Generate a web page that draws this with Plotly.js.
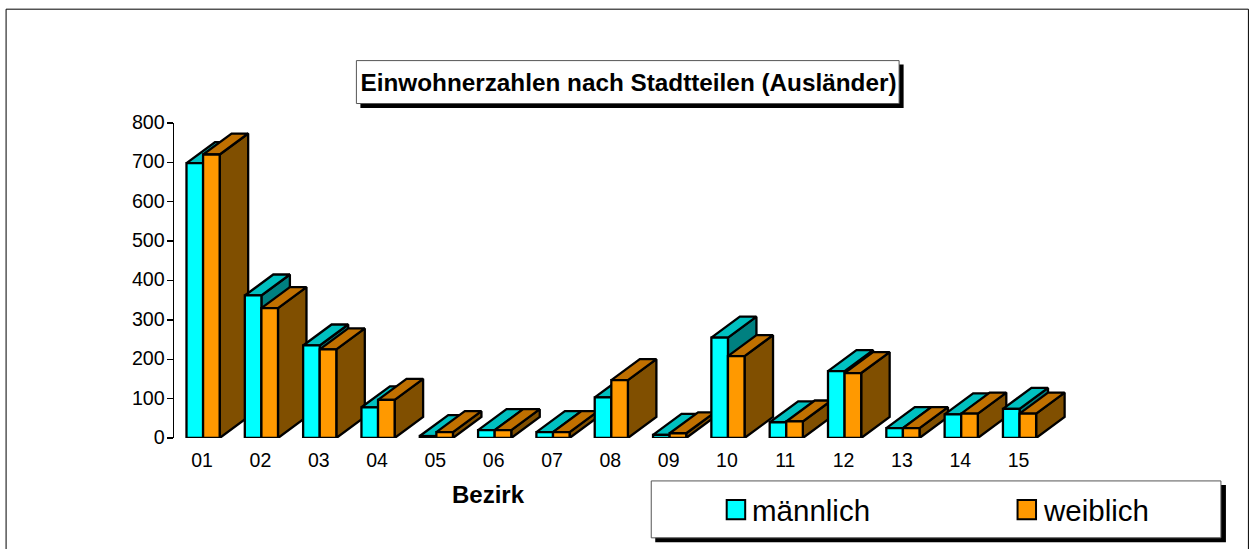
<!DOCTYPE html>
<html><head><meta charset="utf-8">
<script src="https://cdn.plot.ly/plotly-3.0.1.min.js"></script>
<style>html,body{margin:0;padding:0;background:#fff}#c{width:1250px;height:549px}</style></head>
<body><div id="c"></div>
<script>
const categories = ["01","02","03","04","05","06","07","08","09","10","11","12","13","14","15"];
const maennlich = [698,362,235,78,5,20,15,103,8,255,40,170,25,60,74];
const weiblich  = [720,330,225,97,15,20,15,147,12,208,42,165,25,62,62];
const yTicks = [0,100,200,300,400,500,600,700,800];
const titleText = "Einwohnerzahlen nach Stadtteilen (Ausländer)";

const W=1250,H=549, L=173.5,R=1100,T=122.5,B=438;
const pos = categories.map((_,i)=>i+1);
const catPx = 58.35, cat1Px = 202.6;
const xMin = 1+(L-cat1Px)/catPx, xMax = 1+(R-cat1Px)/catPx;
const barW = 16.6/catPx, depthX = 28.5/catPx, depthY = 21/((B-T)/800);
const px = x=>(x-L)/(R-L), py = y=>(B-y)/(B-T);
const font = "Liberation Sans, Arial, sans-serif";
const stroke = 2.3;

function face(xs,ys,fill){
  return {type:'scatter',mode:'lines',x:xs.concat(xs[0]),y:ys.concat(ys[0]),fill:'toself',fillcolor:fill,
    line:{color:'#000',width:stroke,simplify:false},cliponaxis:false,hoverinfo:'skip',showlegend:false,xaxis:'x',yaxis:'y'};
}
const faces=[];
pos.forEach((c,i)=>{
  [[maennlich,c-barW,'#00c0c0','#008080'],[weiblich,c,'#c07000','#804f00']].forEach(([vals,x0,topC,sideC])=>{
    const v=vals[i], x1=x0+barW;
    faces.push(face([x1,x1+depthX,x1+depthX,x1],[0,depthY,v+depthY,v],sideC));
    faces.push(face([x0,x1,x1+depthX,x0+depthX],[v,v,v+depthY,v+depthY],topC));
  });
});
const bar=(name,vals,color)=>({type:'bar',name,x:pos,y:vals,xaxis:'x2',yaxis:'y2',cliponaxis:false,
  marker:{color,line:{color:'#000',width:stroke}},showlegend:false});
const traces=faces.concat([bar('männlich',maennlich,'#00ffff'),bar('weiblich',weiblich,'#ff9900')]);

function rect(x0,y0,x1,y1,fill,line,w){
  return {type:'rect',xref:'paper',yref:'paper',x0:px(x0),x1:px(x1),y0:py(y0),y1:py(y1),layer:'below',
    fillcolor:fill,line:{color:line||fill,width:line?(w||1):0}};
}
const shapes=[
  rect(5.5,8.5,1248.5,553,'#fff','#000',1),
  rect(360,64,903.5,107.5,'#000'), rect(356,60,899,103,'#fff','#555',1),
  rect(655,485,1226,542.5,'#000'), rect(651,481,1221,538,'#fff','#555',1),
];
function swatch(x0,y0,x1,y1,fill){const s=rect(x0,y0,x1,y1,fill,'#000',2);s.layer='above';return s;}
shapes.push(swatch(726.5,500,745,519.5,'#00ffff'), swatch(1017.5,500,1036,519.5,'#ff9900'));

const ann=(text,x,y,size,bold,anchor)=>({text:bold?'<b>'+text+'</b>':text,xref:'paper',yref:'paper',x:px(x),y:py(y),
  xanchor:anchor||'center',yanchor:'middle',showarrow:false,font:{family:font,size,color:'#000'}});
const layout={
  width:W,height:H,paper_bgcolor:'#fff',plot_bgcolor:'rgba(0,0,0,0)',showlegend:false,
  margin:{l:L,r:W-R,t:T,b:H-B,pad:0},
  title:{text:'<b>'+titleText+'</b>',x:628.5/W,y:1-82.5/H,xref:'container',yref:'container',xanchor:'center',yanchor:'middle',font:{family:font,size:24.3,color:'#000'}},
  barmode:'group',bargap:1-2*barW,bargroupgap:0,
  xaxis:{range:[xMin,xMax],tickmode:'array',tickvals:pos,ticktext:categories,ticks:'',showgrid:false,zeroline:false,showline:false,
    tickfont:{family:font,size:19.5,color:'#000'},automargin:false,ticklabelstandoff:8,ticklabelshift:-1},
  yaxis:{range:[0,800],tickmode:'array',tickvals:yTicks,ticks:'outside',ticklen:6,tickwidth:1.3,tickcolor:'#000',showgrid:false,zeroline:false,
    showline:true,linecolor:'#000',linewidth:1.3,tickfont:{family:font,size:19.7,color:'#000'},automargin:false,ticklabelstandoff:-2,ticklabelshift:-1},
  xaxis2:{overlaying:'x',matches:'x',visible:false},
  yaxis2:{overlaying:'y',matches:'y',visible:false},
  shapes,
  annotations:[ann('Bezirk',488,495,24,true),ann('männlich',750,511,29.5,false,'left'),ann('weiblich',1041,511,29.5,false,'left')]
};
Plotly.newPlot('c',traces,layout,{staticPlot:true,displayModeBar:false});
</script></body></html>
